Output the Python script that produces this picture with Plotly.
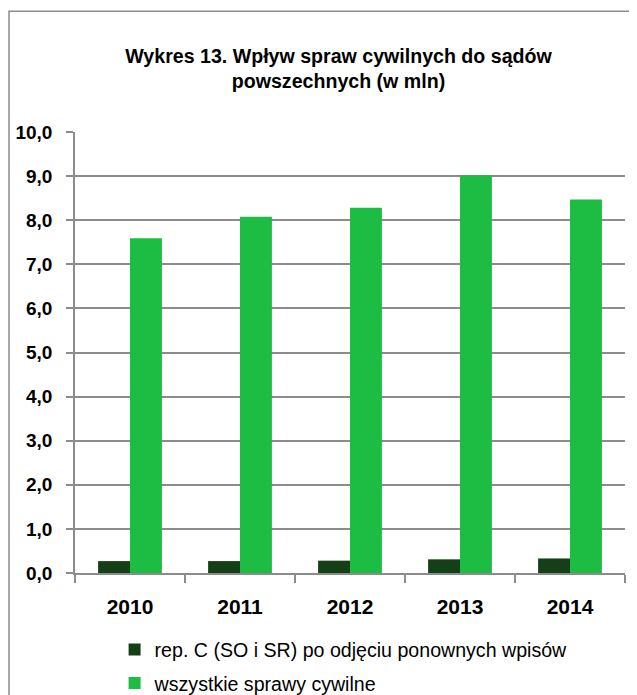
import plotly.graph_objects as go

# Data (in mln)
years = ["2010", "2011", "2012", "2013", "2014"]
rep_c = [0.27, 0.27, 0.28, 0.31, 0.33]
wszystkie = [7.59, 8.08, 8.28, 9.02, 8.47]

series_names = [
    "rep. C (SO i SR) po odjęciu ponownych wpisów",
    "wszystkie sprawy cywilne",
]
colors = ["#153f17", "#1dbd44"]

font_family = "Liberation Sans, Arial, sans-serif"

fig = go.Figure()
fig.add_trace(go.Bar(x=years, y=rep_c, name=series_names[0],
                     marker=dict(color=colors[0], line=dict(width=0)),
                     legendgroup="a"))
fig.add_trace(go.Bar(x=years, y=wszystkie, name=series_names[1],
                     marker=dict(color=colors[1], line=dict(width=0)),
                     legendgroup="b"))

# gray frame around the whole chart (right/bottom edges fall outside the page)
fig.add_shape(type="rect", xref="paper", yref="paper",
              x0=-0.12, x1=1.05, y0=-0.32, y1=1.274,
              line=dict(color="#8c8c8c", width=1.5), layer="below")

# page body has an 8px margin, so the figure is sized to fit the window
fig.update_layout(
    width=629, height=687,
    margin=dict(l=67, r=12, t=124, b=122, autoexpand=False),
    paper_bgcolor="white", plot_bgcolor="white",
    separators=", ",
    barmode="group", bargap=0.42, bargroupgap=0,
    font=dict(family=font_family, color="black"),
    title=dict(
        text="Wykres 13. Wpływ spraw cywilnych do sądów<br>powszechnych (w mln)",
        font=dict(size=19.6, weight="bold", color="black"),
        x=0.5254, xanchor="center", xref="container",
        y=1 - 55 / 687, yanchor="top", yref="container",
    ),
    legend=dict(
        x=0.072, y=-0.13, xanchor="left", yanchor="top",
        orientation="v", tracegroupgap=5,
        font=dict(size=19.6, color="black"),
        bgcolor="rgba(0,0,0,0)",
    ),
    showlegend=True,
)

fig.update_xaxes(
    type="category",
    showline=True, linecolor="#8c8c8c", linewidth=1.5,
    ticks="outside", tickson="boundaries", ticklen=8,
    tickcolor="#8c8c8c", tickwidth=1.5,
    showgrid=False,
    tickfont=dict(size=21, weight="bold", color="black"),
    ticklabelstandoff=14,
)
fig.update_yaxes(
    range=[0, 10], dtick=1, tickformat=".1f",
    showline=True, linecolor="#8c8c8c", linewidth=1.5,
    showgrid=True, gridcolor="#8c8c8c", gridwidth=1.5,
    ticks="outside", ticklen=7, tickcolor="#8c8c8c", tickwidth=1.5,
    zeroline=False,
    tickfont=dict(size=19, weight="bold", color="black"),
    ticklabelstandoff=10,
)

fig.write_html("out.html")
